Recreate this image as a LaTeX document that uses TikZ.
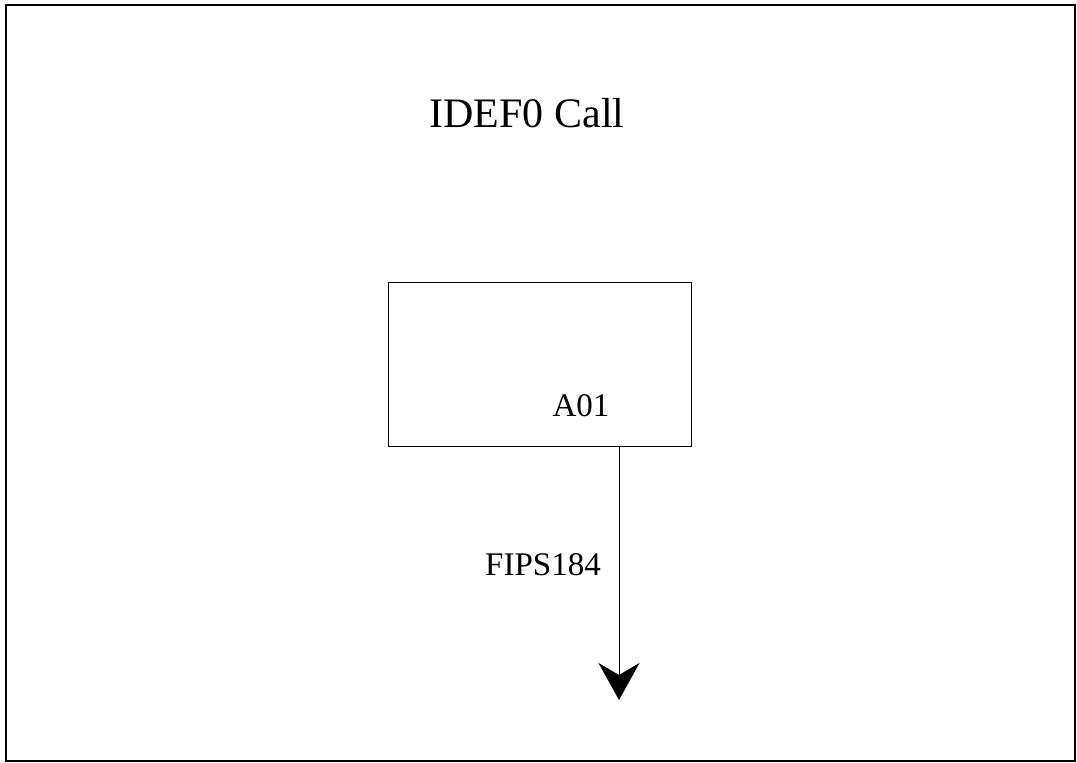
\documentclass[tikz,border=0pt]{standalone}
\usepackage{fontspec}
\setmainfont{Liberation Serif}
\usetikzlibrary{positioning,arrows.meta}

\begin{document}
\begin{tikzpicture}[x=0.5pt,y=-0.5pt,inner sep=0pt, line width=0.5pt]
        %frame
            \useasboundingbox (0,0) rectangle (1077,763);
            \draw[line width=1.1pt] (6,5) rectangle (1075,761);

        %title
            \draw (527,128) node(title) [anchor=base,font=\fontsize{21}{25}\selectfont]{IDEF0 Call};

        %activity box A01
            \draw (539.5,365) node(box) [draw,minimum width=151.5pt,minimum height=82pt]{};
            \draw (581,417) node(num) [anchor=base,font=\fontsize{16.5}{20}\selectfont]{A01};

        %output arrow
            \coordinate (out) at (619,700);
            \draw[-{Stealth[length=18.5pt,width=20.5pt,inset=6pt]}] (box.south -| out) to (out);
            \draw (543,576) node(lbl) [anchor=base,font=\fontsize{16.5}{20}\selectfont]{FIPS184};
        \end{tikzpicture}
\end{document}
